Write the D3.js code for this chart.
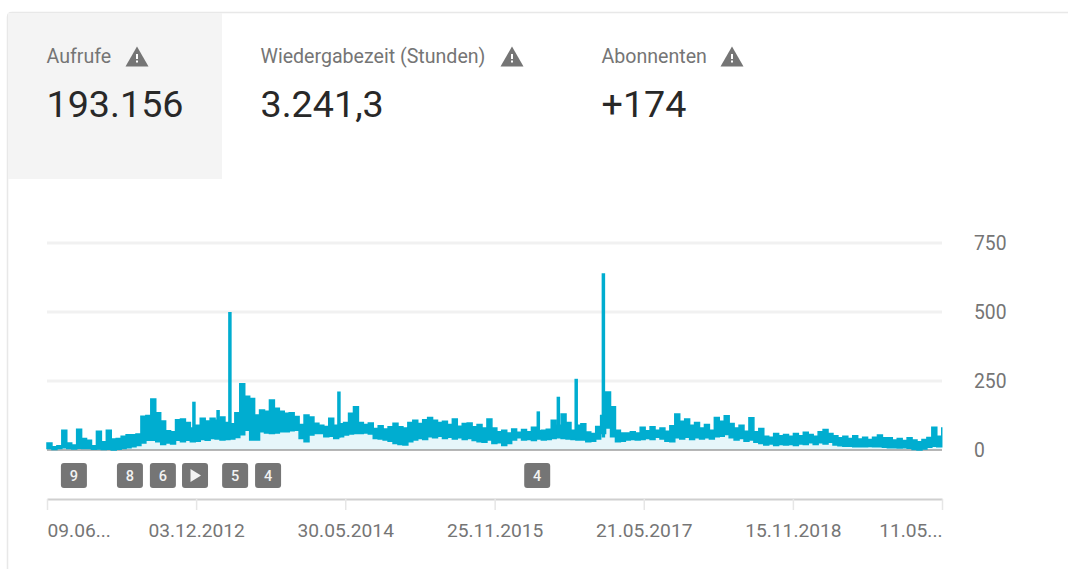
<!DOCTYPE html>
<html>
<head>
<meta charset="utf-8">
<script src="https://cdn.jsdelivr.net/npm/d3@7"></script>
<style>
  body { margin: 0; background: #fff; }
  svg { display: block; font-family: Roboto, sans-serif; }
</style>
</head>
<body>
<div id="chart"></div>
<script>
// Summary tabs
const tabLabels = ['Aufrufe', 'Wiedergabezeit (Stunden)', 'Abonnenten'];
const tabValues = ['193.156', '3.241,3', '+174'];

// Axis
const yTicks = [0, 250, 500, 750];
const tickDates = ['2011-06-09', '2012-12-03', '2014-05-30', '2015-11-25', '2017-05-21', '2018-11-15', '2020-05-11'];
const tickLabels = ['09.06...', '03.12.2012', '30.05.2014', '25.11.2015', '21.05.2017', '15.11.2018', '11.05...'];

// Views, one sample every 18 days: top and bottom of the band
const sampleDays = 18;
const viewsHigh = [
  25, 12, 15, 72, 25, 18, 75, 42, 35, 15,
  68, 30, 72, 40, 42, 50, 55, 55, 58, 122,
  125, 185, 135, 105, 70, 66, 110, 112, 100, 80,
  90, 115, 105, 115, 108, 120, 100, 95, 135, 240,
  195, 187, 127, 145, 140, 181, 151, 140, 133, 135,
  121, 92, 127, 120, 97, 90, 85, 115, 90, 95,
  100, 133, 157, 100, 92, 98, 78, 88, 76, 84,
  97, 84, 80, 100, 108, 96, 110, 118, 108, 100,
  104, 92, 112, 86, 96, 98, 84, 92, 80, 112,
  80, 66, 72, 62, 76, 64, 74, 66, 82, 70,
  72, 75, 108, 90, 130, 100, 72, 90, 95, 65,
  60, 85, 125, 210, 157, 72, 62, 62, 66, 62,
  82, 70, 84, 72, 80, 68, 88, 130, 104, 112,
  90, 100, 80, 92, 72, 118, 104, 124, 96, 80,
  90, 68, 117, 66, 78, 50, 46, 60, 52, 56,
  50, 60, 52, 64, 56, 50, 66, 74, 60, 52,
  44, 50, 42, 52, 40, 46, 38, 46, 54, 44,
  44, 36, 42, 34, 44, 36, 30, 38, 45, 82,
  50, 82
];
const viewsLow = [
  5, 2, 5, 8, 5, 4, 6, 5, 5, 3,
  4, 2, 3, 0, 3, 5, 8, 12, 16, 25,
  35, 35, 30, 20, 25, 22, 35, 30, 35, 30,
  32, 38, 35, 42, 40, 36, 38, 40, 45, 55,
  72, 36, 36, 66, 62, 60, 62, 66, 66, 70,
  72, 42, 30, 54, 60, 60, 48, 50, 42, 48,
  54, 58, 60, 60, 62, 58, 42, 40, 36, 32,
  24, 20, 18, 30, 36, 42, 38, 48, 44, 50,
  42, 46, 40, 44, 38, 42, 34, 30, 28, 36,
  24, 26, 16, 24, 36, 44, 36, 38, 34, 40,
  36, 38, 42, 44, 42, 40, 38, 36, 36, 30,
  32, 40, 60, 80, 48, 30, 32, 36, 38, 36,
  38, 42, 38, 46, 40, 32, 30, 44, 40, 46,
  38, 44, 40, 44, 40, 48, 50, 56, 44, 36,
  42, 32, 36, 28, 24, 18, 22, 16, 20, 18,
  20, 16, 22, 20, 26, 20, 26, 22, 28, 18,
  15, 14, 14, 12, 12, 12, 13, 12, 12, 10,
  8, 8, 7, 8, 6, 2, 0, 4, 10, 14,
  12, 12
];

// Single-day peaks
const spikeDates = ['2012-11-25', '2013-02-21', '2013-04-05', '2014-05-07', '2016-05-02', '2016-07-14', '2016-09-17', '2016-12-25'];
const spikeValues = [175, 145, 500, 212, 140, 193, 258, 640];
const spikeFloor = 45;

// Annotation chips under the chart
const noteDates = ['2011-09-15', '2012-04-06', '2012-08-04', '2012-11-29', '2013-04-24', '2013-08-22', '2016-04-28'];
const noteLabels = ['9', '8', '6', 'play', '5', '4', '4'];

const width = 1068, height = 569;
const parseDate = d3.utcParse('%Y-%m-%d');
const startDate = parseDate(tickDates[0]);

const svg = d3.select('#chart').append('svg')
    .attr('width', width).attr('height', height);

// Card edges and selected tab
svg.append('path')
    .attr('d', 'M7.5,569V17Q7.5,12.5 12,12.5H1068')
    .attr('fill', 'none').attr('stroke', '#e8e8e8').attr('stroke-width', 1.5);
svg.append('rect')
    .attr('x', 8).attr('y', 13).attr('width', 214).attr('height', 166)
    .attr('fill', '#f4f4f4');

// Tab texts and warning triangles
const tabX = [46.5, 260.5, 601.5];
const warnX = [137, 512, 732];
const tabs = svg.selectAll('g.tab').data(tabLabels).join('g').classed('tab', true);
tabs.append('text')
    .attr('x', (d, i) => tabX[i]).attr('y', 63)
    .attr('font-size', 19.6).attr('fill', '#757575')
    .text(d => d);
tabs.append('text')
    .attr('x', (d, i) => tabX[i]).attr('y', 117)
    .attr('font-size', 37.7).attr('fill', '#282828')
    .text((d, i) => tabValues[i]);
tabs.append('path')
    .attr('transform', (d, i) => `translate(${warnX[i]},57)`)
    .attr('fill', '#757575')
    .attr('d', 'M0,-10.5L11.5,9.5H-11.5Z');
tabs.append('rect')
    .attr('transform', (d, i) => `translate(${warnX[i]},57)`)
    .attr('x', -1).attr('y', -3).attr('width', 2).attr('height', 5)
    .attr('fill', '#fff');
tabs.append('rect')
    .attr('transform', (d, i) => `translate(${warnX[i]},57)`)
    .attr('x', -1).attr('y', 3.5).attr('width', 2).attr('height', 2)
    .attr('fill', '#fff');

// Scales
const x = d3.scaleUtc()
    .domain([startDate, parseDate(tickDates[tickDates.length - 1])])
    .range([47, 942]);
const y = d3.scaleLinear().domain([0, 750]).range([450, 243]);

const samples = viewsHigh.map((high, i) => ({
    date: d3.utcDay.offset(startDate, i * sampleDays),
    high: high,
    low: viewsLow[i]
}));

// Y axis, with the tick lines used as grid
const yAxis = svg.append('g')
    .attr('transform', 'translate(942,0)')
    .call(d3.axisRight(y).tickValues(yTicks).tickSize(0).tickPadding(32));
yAxis.select('.domain').remove();
yAxis.selectAll('text')
    .attr('font-family', 'Roboto, sans-serif').attr('font-size', 19.3).attr('fill', '#757575');
svg.append('g').selectAll('line')
    .data(yTicks.filter(d => d > 0))
    .join('line')
    .attr('x1', 47).attr('x2', 942)
    .attr('y1', d => y(d)).attr('y2', d => y(d))
    .attr('stroke', '#f1f1f1').attr('stroke-width', 3);

// Light fill below the band
svg.append('path')
    .datum(samples)
    .attr('fill', '#e6f6fa')
    .attr('d', d3.area().curve(d3.curveStepAfter)
        .x(d => x(d.date)).y0(y(0)).y1(d => y(d.low)));

// Baseline
svg.append('line')
    .attr('x1', 47).attr('x2', 942)
    .attr('y1', y(0)).attr('y2', y(0))
    .attr('stroke', '#9e9e9e').attr('stroke-width', 1.5);

// Daily band
const lineColor = '#00add0';
svg.append('path')
    .datum(samples)
    .attr('fill', lineColor)
    .attr('stroke', lineColor)
    .attr('stroke-width', 1.5)
    .attr('d', d3.area().curve(d3.curveStepAfter)
        .x(d => x(d.date)).y0(d => y(d.low)).y1(d => y(d.high)));

// Peaks
svg.append('g').selectAll('line')
    .data(spikeDates)
    .join('line')
    .attr('x1', d => x(parseDate(d))).attr('x2', d => x(parseDate(d)))
    .attr('y1', y(spikeFloor))
    .attr('y2', (d, i) => y(spikeValues[i]))
    .attr('stroke', lineColor).attr('stroke-width', 3.5);

// Annotation chips
const notes = svg.append('g').selectAll('g')
    .data(noteDates)
    .join('g')
    .attr('transform', d => `translate(${x(parseDate(d))},475.5)`);
notes.append('rect')
    .attr('x', -13).attr('y', -12.5).attr('width', 26).attr('height', 25).attr('rx', 3)
    .attr('fill', '#757575');
notes.filter((d, i) => noteLabels[i] !== 'play').append('text')
    .attr('text-anchor', 'middle').attr('dy', '0.36em')
    .attr('font-size', 14.5).attr('font-weight', 500).attr('fill', '#f2f2f2')
    .text(d => noteLabels[noteDates.indexOf(d)]);
notes.filter((d, i) => noteLabels[i] === 'play').append('path')
    .attr('fill', '#f2f2f2')
    .attr('d', 'M-4.5,-6.5L6,0L-4.5,6.5Z');

// X axis
const xAxis = svg.append('g')
    .attr('transform', 'translate(0,499)')
    .call(d3.axisBottom(x)
        .tickValues(tickDates.map(parseDate))
        .tickFormat((d, i) => tickLabels[i])
        .tickSize(11).tickSizeOuter(0).tickPadding(13));
xAxis.select('.domain').attr('stroke', '#cfcfcf').attr('stroke-width', 2);
xAxis.selectAll('line').attr('stroke', '#e6e6e6').attr('stroke-width', 1.5);
xAxis.selectAll('text')
    .attr('font-family', 'Roboto, sans-serif').attr('font-size', 19.2).attr('fill', '#757575')
    .attr('text-anchor', (d, i) => i === 0 ? 'start' : i === tickDates.length - 1 ? 'end' : 'middle');
</script>
</body>
</html>
